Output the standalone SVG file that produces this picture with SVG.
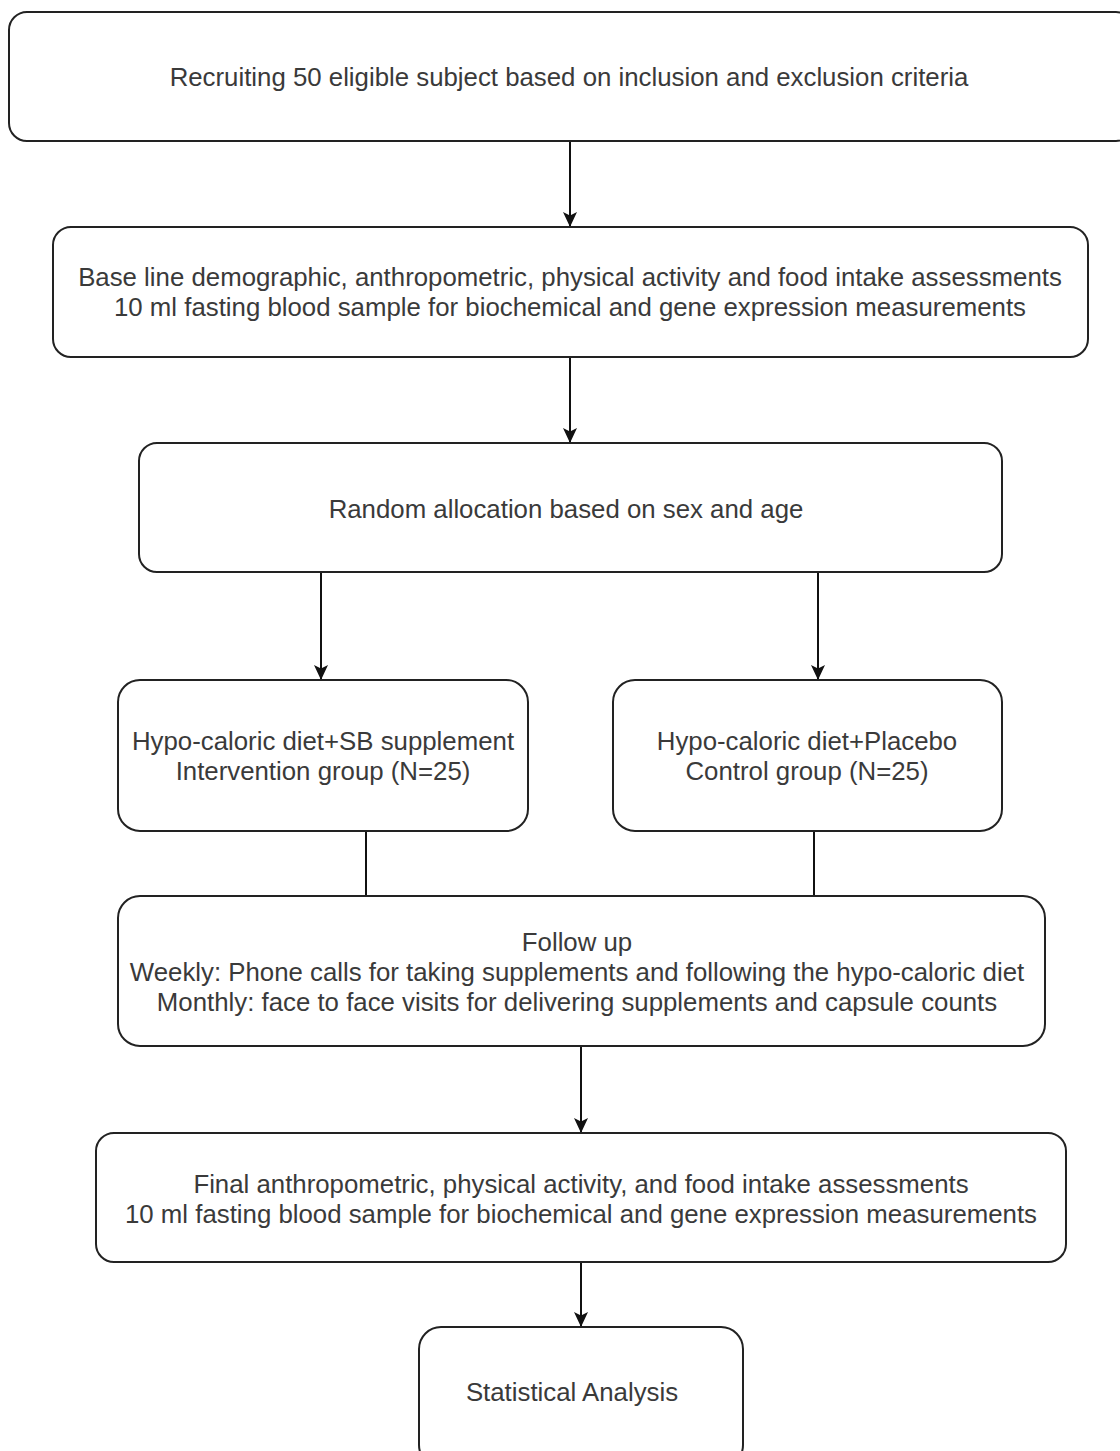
<svg xmlns="http://www.w3.org/2000/svg" width="1120" height="1451" viewBox="0 0 1120 1451">
<style>
.box{fill:#fff;stroke:#222;stroke-width:2}
.t{font-family:"Liberation Sans",Arial,sans-serif;font-size:25.8px;fill:#3a3a3a;text-anchor:middle}
.c{stroke:#111;stroke-width:2;fill:none}
</style>
<defs>
<marker id="ah" markerWidth="16" markerHeight="16" refX="14" refY="7" orient="auto" markerUnits="userSpaceOnUse">
<path d="M0,0 L15,7 L0,14 L3.5,7 Z" fill="#111"/>
</marker>
</defs>
<rect width="1120" height="1451" fill="#fff"/>
<g id="connectors">
<line class="c" x1="570" y1="141" x2="570" y2="226" marker-end="url(#ah)"/>
<line class="c" x1="570" y1="357" x2="570" y2="442" marker-end="url(#ah)"/>
<line class="c" x1="321" y1="572" x2="321" y2="679" marker-end="url(#ah)"/>
<line class="c" x1="818" y1="572" x2="818" y2="679" marker-end="url(#ah)"/>
<line class="c" x1="366" y1="831" x2="366" y2="896"/>
<line class="c" x1="814" y1="831" x2="814" y2="896"/>
<line class="c" x1="581" y1="1046" x2="581" y2="1132" marker-end="url(#ah)"/>
<line class="c" x1="581" y1="1262" x2="581" y2="1326" marker-end="url(#ah)"/>
</g>
<g id="n1">
<rect class="box" x="9" y="12" width="1125" height="129" rx="18"/>
<text class="t" x="569" y="86">Recruiting 50 eligible subject based on inclusion and exclusion criteria</text>
</g>
<g id="n2">
<rect class="box" x="53" y="227" width="1035" height="130" rx="18"/>
<text class="t" x="570" y="286">Base line demographic, anthropometric, physical activity and food intake assessments</text>
<text class="t" x="570" y="316">10 ml fasting blood sample for biochemical and gene expression measurements</text>
</g>
<g id="n3">
<rect class="box" x="139" y="443" width="863" height="129" rx="18"/>
<text class="t" x="566" y="518">Random allocation based on sex and age</text>
</g>
<g id="n4">
<rect class="box" x="118" y="680" width="410" height="151" rx="22"/>
<text class="t" x="323" y="750">Hypo-caloric diet+SB supplement</text>
<text class="t" x="323" y="780">Intervention group (N=25)</text>
</g>
<g id="n5">
<rect class="box" x="613" y="680" width="389" height="151" rx="22"/>
<text class="t" x="807" y="750">Hypo-caloric diet+Placebo</text>
<text class="t" x="807" y="780">Control group (N=25)</text>
</g>
<g id="n6">
<rect class="box" x="118" y="896" width="927" height="150" rx="22"/>
<text class="t" x="577" y="951">Follow up</text>
<text class="t" x="577" y="981">Weekly: Phone calls for taking supplements and following the hypo-caloric diet</text>
<text class="t" x="577" y="1011">Monthly: face to face visits for delivering supplements and capsule counts</text>
</g>
<g id="n7">
<rect class="box" x="96" y="1133" width="970" height="129" rx="18"/>
<text class="t" x="581" y="1193">Final anthropometric, physical activity, and food intake assessments</text>
<text class="t" x="581" y="1223">10 ml fasting blood sample for biochemical and gene expression measurements</text>
</g>
<g id="n8">
<rect class="box" x="419" y="1327" width="324" height="140" rx="22"/>
<text class="t" x="572" y="1401">Statistical Analysis</text>
</g>
</svg>
